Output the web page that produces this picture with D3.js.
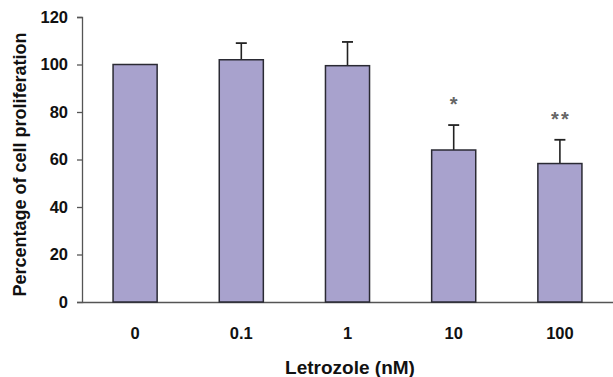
<!DOCTYPE html>
<html>
<head>
<meta charset="utf-8">
<script src="https://cdn.jsdelivr.net/npm/d3@7"></script>
<style>
body { margin: 0; background: #fff; }
text { font-family: "Liberation Sans", Arial, sans-serif; font-weight: bold; }
</style>
</head>
<body>
<div id="chart"></div>
<script>
var doses = ["0", "0.1", "1", "10", "100"];
var values = [100, 102, 99.5, 64, 58.3];
var errors = [0, 7, 10, 10.5, 10];
var marks = ["", "", "", "*", "**"];
var yTicks = [0, 20, 40, 60, 80, 100, 120];

var width = 613, height = 377;
var margin = {top: 17, right: 0, bottom: 75, left: 82};

var rows = doses.map(function(d, i) {
	return {dose: d, val: values[i], err: errors[i], mark: marks[i]};
});

var svg = d3.select("#chart").append("svg").attr("width", width).attr("height", height);

var x = d3.scaleBand().domain(doses)
	.range([margin.left, width - margin.right])
	.paddingInner(0.585).paddingOuter(0.2925);
var y = d3.scaleLinear().domain([0, 120]).range([height - margin.bottom, margin.top]);
var cx = function(d) { return x(d.dose) + x.bandwidth() / 2; };

// y axis
var yAxis = svg.append("g").attr("transform", "translate(" + margin.left + ",0)")
	.call(d3.axisLeft(y).tickValues(yTicks).tickSize(5).tickPadding(9));
yAxis.select(".domain").attr("stroke", "#555").attr("stroke-width", 1.3);
yAxis.selectAll(".tick line").attr("stroke", "#555").attr("stroke-width", 1.3);
yAxis.selectAll(".tick text").attr("font-size", 16.5).attr("fill", "#111")
	.attr("font-family", "Liberation Sans, Arial, sans-serif").attr("font-weight", "bold");

// x axis
var xAxis = svg.append("g").attr("transform", "translate(0," + y(0) + ")")
	.call(d3.axisBottom(x).tickSize(0).tickPadding(25));
xAxis.select(".domain").attr("stroke", "#555").attr("stroke-width", 1.3);
xAxis.selectAll(".tick text").attr("font-size", 16.5).attr("fill", "#111")
	.attr("font-family", "Liberation Sans, Arial, sans-serif").attr("font-weight", "bold");

// error bars
var withErr = rows.filter(function(d) { return d.err > 0; });
svg.selectAll(".err").data(withErr).enter().append("line")
	.attr("x1", cx).attr("x2", cx)
	.attr("y1", function(d) { return y(d.val); })
	.attr("y2", function(d) { return y(d.val + d.err); })
	.attr("stroke", "#222").attr("stroke-width", 1.6);
svg.selectAll(".cap").data(withErr).enter().append("line")
	.attr("x1", function(d) { return cx(d) - 5.5; })
	.attr("x2", function(d) { return cx(d) + 5.5; })
	.attr("y1", function(d) { return y(d.val + d.err); })
	.attr("y2", function(d) { return y(d.val + d.err); })
	.attr("stroke", "#222").attr("stroke-width", 1.8);

// bars
svg.selectAll(".bar").data(rows).enter().append("rect")
	.attr("class", "bar")
	.attr("x", function(d) { return x(d.dose); })
	.attr("width", x.bandwidth())
	.attr("y", function(d) { return y(d.val); })
	.attr("height", function(d) { return y(0) - y(d.val); })
	.attr("fill", "#a8a2cd")
	.attr("stroke", "#2a2a33").attr("stroke-width", 1.5);

// significance marks
svg.selectAll(".sig").data(rows).enter().append("text")
	.attr("x", function(d) { return cx(d) + 1; })
	.attr("y", function(d) { return y(d.val + d.err) - 14; })
	.attr("text-anchor", "middle")
	.attr("font-size", 20).attr("fill", "#666").attr("letter-spacing", 2)
	.text(function(d) { return d.mark; });

// axis titles
svg.append("text")
	.attr("transform", "translate(26," + ((margin.top + y(0)) / 2 + 5) + ") rotate(-90)")
	.attr("text-anchor", "middle").attr("font-size", 18).attr("fill", "#111")
	.text("Percentage of cell proliferation");
svg.append("text")
	.attr("x", 350).attr("y", 374)
	.attr("text-anchor", "middle").attr("font-size", 19).attr("fill", "#111")
	.text("Letrozole (nM)");
</script>
</body>
</html>
